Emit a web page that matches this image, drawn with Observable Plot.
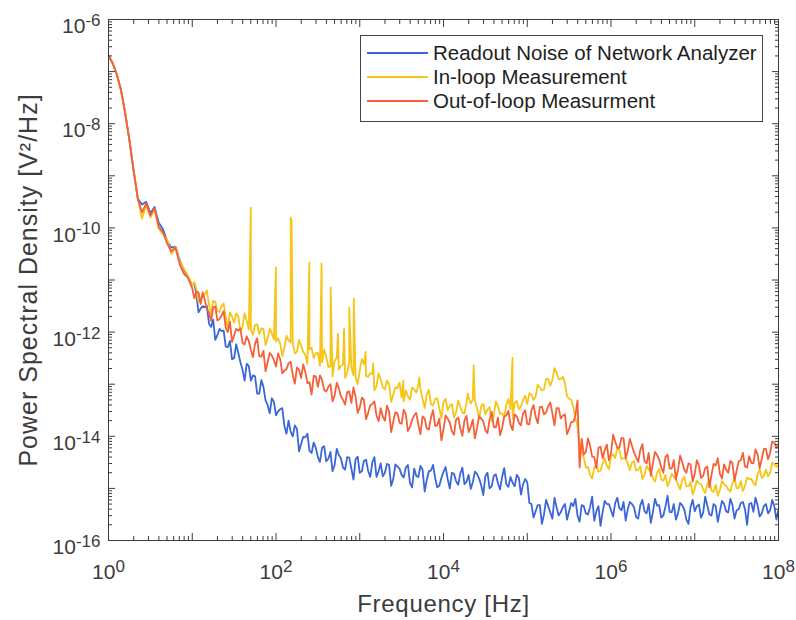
<!DOCTYPE html>
<html>
<head>
<meta charset="utf-8">
<script src="https://cdn.jsdelivr.net/npm/d3@7"></script>
<script src="https://cdn.jsdelivr.net/npm/@observablehq/plot@0.6"></script>
<style>
  body { margin: 0; background: #fff; }
  #wrap { position: relative; width: 796px; height: 620px; font-family: "Liberation Sans", Arial, sans-serif; }
  #legend { position: absolute; left: 360px; top: 35px; width: 403px; height: 87px; border: 1px solid #444; background: #fff; box-sizing: border-box; font-size: 20.5px; color: #1e1e1e; }
  .row { position: absolute; left: 0; height: 24px; display: flex; align-items: center; white-space: nowrap; }
  .sw { display: inline-block; width: 61px; height: 2px; margin-left: 6px; margin-right: 5px; }
</style>
</head>
<body>
<div id="wrap"></div>
<script>
// log10 of frequency [Hz] (main grid)
const logFreq = [0,0.05,0.1,0.15,0.2,0.25,0.3,0.35,0.4,0.45,0.5,0.55,0.6,0.65,0.7,0.75,0.8,0.85,0.9,0.95,1,
1.05,1.1,1.15,1.2,1.25,1.3,1.35,1.4,1.45,1.5,1.55,1.6,1.65,1.7,1.75,1.8,1.85,1.9,1.95,2,
2.05,2.1,2.15,2.2,2.25,2.3,2.35,2.4,2.45,2.5,2.55,2.6,2.65,2.7,2.75,2.8,2.85,2.9,2.95,3,
3.05,3.1,3.15,3.2,3.25,3.3,3.35,3.4,3.45,3.5,3.55,3.6,3.65,3.7,3.75,3.8,3.85,3.9,3.95,4,
4.05,4.1,4.15,4.2,4.25,4.3,4.35,4.4,4.45,4.5,4.55,4.6,4.65,4.7,4.75,4.8,4.85,4.9,4.95,5,
5.05,5.1,5.15,5.2,5.25,5.3,5.35,5.4,5.45,5.5,5.55,5.6,5.65,5.7,5.75,5.8,5.85,5.9,5.95,6,
6.05,6.1,6.15,6.2,6.25,6.3,6.35,6.4,6.45,6.5,6.55,6.6,6.65,6.7,6.75,6.8,6.85,6.9,6.95,7,
7.05,7.1,7.15,7.2,7.25,7.3,7.35,7.4,7.45,7.5,7.55,7.6,7.65,7.7,7.75,7.8,7.85,7.9,7.95,8];

// log10 of frequency [Hz] (in-between samples of the noisy part)
const midLogFreq = [1.025,1.075,1.125,1.175,1.225,1.275,1.325,1.375,1.425,1.475,1.525,1.575,1.625,1.675,1.725,1.775,1.825,1.875,1.925,1.975,
2.025,2.075,2.125,2.175,2.225,2.275,2.325,2.375,2.425,2.475,2.525,2.575,2.625,2.675,2.725,2.775,2.825,2.875,2.925,2.975,
3.025,3.075,3.125,3.175,3.225,3.275,3.325,3.375,3.425,3.475,3.525,3.575,3.625,3.675,3.725,3.775,3.825,3.875,3.925,3.975,
4.025,4.075,4.125,4.175,4.225,4.275,4.325,4.375,4.425,4.475,4.525,4.575,4.625,4.675,4.725,4.775,4.825,4.875,4.925,4.975,
5.025,5.075,5.125,5.175,5.225,5.275,5.325,5.375,5.425,5.475,5.525,5.575,5.625,5.675,5.725,5.775,5.825,5.875,5.925,5.975,
6.025,6.075,6.125,6.175,6.225,6.275,6.325,6.375,6.425,6.475,6.525,6.575,6.625,6.675,6.725,6.775,6.825,6.875,6.925,6.975,
7.025,7.075,7.125,7.175,7.225,7.275,7.325,7.375,7.425,7.475,7.525,7.575,7.625,7.675,7.725,7.775,7.825,7.875,7.925,7.975];

// ---- Readout Noise of Network Analyzer: log10 PSD [V^2/Hz] ----
const readoutNoise = [-6.69,-6.84,-7.06,-7.36,-7.80,-8.32,-8.90,-9.44,-9.55,-9.50,-9.72,-9.60,-9.90,-10.02,-10.25,-10.38,-10.36,-10.62,-10.80,-10.95,-11.10,
-11.29,-11.55,-11.52,-11.84,-11.76,-12.06,-11.98,-12.28,-12.17,-12.50,-12.40,-12.72,-12.61,-12.93,-12.85,-13.18,-13.05,-13.40,-13.27,-13.60,
-13.48,-13.80,-13.70,-14.00,-13.86,-14.15,-14.02,-14.28,-14.12,-14.40,-14.22,-14.48,-14.30,-14.55,-14.36,-14.60,-14.40,-14.62,-14.44,-14.70,
-14.47,-14.66,-14.50,-14.78,-14.52,-14.70,-14.55,-14.82,-14.58,-14.74,-14.60,-14.90,-14.62,-14.78,-14.64,-14.84,-14.66,-14.80,-14.95,-14.68,
-14.82,-14.70,-14.86,-14.72,-14.92,-14.74,-14.88,-14.72,-14.94,-14.76,-15.00,-14.76,-14.90,-14.78,-14.92,-14.78,-14.96,-14.80,-14.92,-14.88,
-15.30,-15.44,-15.32,-15.50,-15.34,-15.58,-15.36,-15.46,-15.30,-15.44,-15.34,-15.52,-15.32,-15.48,-15.36,-15.62,-15.34,-15.45,-15.30,-15.42,
-15.28,-15.38,-15.26,-15.40,-15.30,-15.55,-15.32,-15.44,-15.30,-15.46,-15.33,-15.56,-15.35,-15.45,-15.30,-15.48,-15.32,-15.60,-15.36,-15.44,
-15.31,-15.47,-15.33,-15.52,-15.34,-15.44,-15.30,-15.46,-15.32,-15.42,-15.28,-15.40,-15.30,-15.45,-15.32,-15.48,-15.30,-15.42,-15.34,-15.40];
const readoutNoiseMid = [-11.06,-11.62,-11.50,-11.50,-11.90,-12.15,-11.94,-11.97,-12.29,-12.52,-12.23,-12.58,-12.93,-12.65,-12.83,-13.18,-12.92,-13.31,-13.56,-13.34,
-13.52,-13.46,-13.95,-13.91,-13.79,-14.29,-14.01,-13.95,-14.32,-14.22,-14.49,-14.19,-14.43,-14.67,-14.24,-14.42,-14.64,-14.41,-14.83,-14.39,
-14.67,-14.45,-14.78,-14.40,-14.67,-14.77,-14.53,-14.95,-14.54,-14.62,-14.79,-14.55,-14.98,-14.76,-14.57,-15.06,-14.67,-14.55,-14.98,-14.80,
-14.59,-15.00,-14.72,-14.93,-14.60,-14.87,-15.01,-14.68,-14.81,-15.13,-14.70,-14.96,-14.73,-15.02,-14.61,-14.97,-14.89,-14.74,-15.12,-14.82,
-15.28,-15.56,-15.32,-15.68,-15.22,-15.46,-15.18,-15.52,-15.36,-15.60,-15.28,-15.20,-15.64,-15.34,-15.50,-15.16,-15.44,-15.72,-15.24,-15.30,
-15.54,-15.18,-15.42,-15.62,-15.26,-15.36,-15.58,-15.22,-15.48,-15.66,-15.20,-15.32,-15.52,-15.14,-15.46,-15.60,-15.28,-15.40,-15.68,-15.22,
-15.34,-15.56,-15.16,-15.50,-15.30,-15.64,-15.24,-15.44,-15.20,-15.58,-15.40,-15.26,-15.70,-15.28,-15.18,-15.54,-15.34,-15.48,-15.22,-15.60];

// ---- In-loop Measurement ----
const inLoop = [-6.69,-6.84,-7.06,-7.36,-7.80,-8.32,-8.90,-9.44,-9.82,-9.56,-9.80,-9.64,-10.02,-10.12,-10.22,-10.50,-10.36,-10.64,-10.78,-10.92,-11.10,
-11.18,-11.36,-11.28,-11.48,-11.40,-11.60,-11.50,-11.72,-11.62,-11.82,-11.70,-11.90,-11.78,-11.96,-11.86,-12.04,-11.94,-12.12,-12.02,-12.18,
-12.22,-12.30,-12.16,-12.20,-12.38,-12.27,-12.44,-12.33,-12.50,-12.40,-12.58,-12.48,-12.66,-12.55,-12.72,-12.62,-12.78,-12.68,-12.86,-12.74,
-12.62,-12.86,-12.80,-13.04,-12.90,-13.10,-13.00,-13.20,-13.08,-13.26,-13.12,-13.30,-13.10,-13.02,-13.28,-13.20,-13.38,-13.28,-13.46,-13.34,
-13.50,-13.38,-13.54,-13.42,-13.56,-13.24,-13.30,-13.46,-13.42,-13.58,-13.44,-13.60,-13.42,-13.56,-13.40,-13.48,-13.36,-13.48,-13.30,-13.38,
-13.20,-13.24,-13.06,-13.10,-12.90,-12.92,-12.78,-12.90,-12.98,-13.28,-13.44,-13.80,-14.30,-14.60,-14.74,-14.60,-14.68,-14.52,-14.56,-14.38,
-14.42,-14.26,-14.42,-14.52,-14.50,-14.66,-14.58,-14.74,-14.64,-14.80,-14.70,-14.83,-14.74,-14.86,-14.78,-14.92,-14.84,-14.96,-14.88,-15.00,
-14.90,-15.02,-14.92,-15.04,-14.93,-15.03,-14.92,-15.02,-14.90,-15.00,-14.86,-14.95,-14.82,-14.90,-14.74,-14.80,-14.64,-14.70,-14.54,-14.52];
const inLoopMid = [-11.04,-11.43,-11.28,-11.20,-11.64,-11.42,-11.61,-11.45,-11.91,-11.70,-11.64,-11.98,-11.64,-11.95,-12.05,-11.85,-11.93,-12.25,-11.93,-12.14,
-12.12,-12.46,-12.07,-12.20,-12.41,-12.15,-12.38,-12.61,-12.30,-12.41,-12.65,-12.33,-12.67,-12.85,-12.50,-12.65,-12.88,-12.57,-12.83,-13.00,
-12.52,-12.84,-12.79,-13.12,-12.79,-13.06,-12.93,-13.34,-13.06,-12.97,-13.33,-13.23,-13.06,-13.16,-13.09,-13.46,-13.11,-13.41,-13.27,-13.66,
-13.28,-13.42,-13.64,-13.32,-13.55,-13.36,-13.37,-13.32,-13.66,-13.38,-13.49,-13.72,-13.33,-13.57,-13.62,-13.28,-13.66,-13.32,-13.43,-13.22,
-13.17,-13.30,-13.01,-13.12,-12.90,-13.03,-12.69,-12.90,-12.86,-13.23,-13.30,-13.66,-14.13,-14.41,-14.59,-14.81,-14.54,-14.66,-14.42,-14.63,
-14.34,-14.22,-14.44,-14.43,-14.65,-14.48,-14.64,-14.82,-14.57,-14.68,-14.87,-14.63,-14.85,-14.96,-14.72,-14.83,-15.02,-14.78,-14.96,-15.12,
-14.85,-14.92,-15.09,-14.84,-15.07,-15.14,-14.86,-14.95,-15.06,-14.81,-14.99,-15.05,-14.79,-14.82,-14.94,-14.63,-14.76,-14.77,-14.50,-14.59];
// narrow peaks (mains harmonics etc.) of the in-loop spectrum
const inLoopSpikeLogFreq = [1.699,1.999,2.176,2.186,2.398,2.544,2.653,2.740,2.813,2.875,2.929,3.07,3.16,3.52,3.71,4.29,4.36,4.824];
const inLoopSpikeLogPsd  = [-9.61,-10.76,-9.80,-9.85,-10.66,-10.68,-11.14,-12.03,-11.93,-11.53,-11.36,-12.38,-12.60,-12.93,-12.87,-13.18,-12.64,-12.49];

// ---- Out-of-loop Measurment ----
const outOfLoop = [-6.69,-6.84,-7.06,-7.36,-7.80,-8.32,-8.90,-9.44,-9.70,-9.53,-9.76,-9.62,-9.98,-10.08,-10.30,-10.45,-10.38,-10.70,-10.88,-10.96,-11.16,
-11.22,-11.46,-11.38,-11.62,-11.52,-11.78,-11.68,-11.92,-11.80,-12.06,-11.97,-12.20,-12.08,-12.34,-12.22,-12.46,-12.36,-12.58,-12.45,-12.66,
-12.52,-12.74,-12.60,-12.82,-12.68,-12.88,-12.76,-12.96,-12.84,-13.05,-12.92,-13.14,-13.00,-13.22,-13.08,-13.30,-13.15,-13.36,-13.24,-13.45,
-13.30,-13.55,-13.38,-13.60,-13.46,-13.70,-13.52,-13.72,-13.56,-13.76,-13.58,-13.82,-13.60,-13.78,-13.62,-13.85,-13.64,-13.80,-13.66,-13.86,
-13.66,-13.90,-13.68,-13.84,-13.70,-13.92,-13.68,-13.84,-13.66,-13.88,-13.68,-13.82,-13.64,-13.84,-13.60,-13.78,-13.58,-13.74,-13.56,-13.76,
-13.50,-13.62,-13.44,-13.58,-13.42,-13.56,-13.46,-13.66,-13.58,-13.86,-13.72,-13.31,-14.05,-14.30,-14.18,-14.40,-14.22,-14.42,-14.16,-14.32,
-14.10,-14.22,-14.04,-14.28,-14.18,-14.40,-14.26,-14.48,-14.32,-14.52,-14.36,-14.60,-14.40,-14.62,-14.46,-14.64,-14.50,-14.70,-14.54,-14.72,
-14.56,-14.76,-14.58,-14.74,-14.56,-14.72,-14.54,-14.70,-14.52,-14.66,-14.46,-14.58,-14.38,-14.52,-14.34,-14.44,-14.24,-14.32,-14.12,-14.16];
const outOfLoopMid = [-11.35,-11.24,-11.24,-11.56,-11.79,-11.51,-11.75,-11.60,-12.00,-12.19,-11.94,-11.93,-12.24,-12.17,-12.48,-12.12,-12.47,-12.75,-12.40,-12.54,
-12.41,-12.79,-12.71,-12.57,-12.99,-12.72,-12.62,-12.98,-13.20,-12.85,-12.83,-13.11,-13.05,-13.33,-12.97,-13.23,-13.39,-13.14,-13.06,-13.55,
-13.26,-13.67,-13.41,-13.33,-13.71,-13.62,-13.41,-13.92,-13.54,-13.74,-13.49,-13.90,-13.69,-13.55,-13.96,-13.66,-13.87,-13.50,-13.79,-14.08,
-13.60,-13.74,-13.97,-13.64,-13.99,-13.61,-13.82,-14.04,-13.61,-13.71,-13.94,-13.53,-13.83,-13.98,-13.62,-13.51,-13.88,-13.62,-13.79,-13.50,
-13.77,-13.40,-13.75,-13.43,-13.54,-13.35,-13.79,-13.46,-13.60,-13.96,-13.73,-13.60,-14.60,-14.35,-14.04,-14.39,-14.61,-14.20,-14.27,-14.46,
-13.97,-14.22,-14.03,-14.42,-14.05,-14.31,-14.49,-14.15,-14.52,-14.76,-14.30,-14.44,-14.70,-14.35,-14.62,-14.83,-14.37,-14.64,-14.52,-14.87,
-14.46,-14.80,-14.61,-14.98,-14.53,-14.42,-14.81,-14.64,-14.47,-14.85,-14.48,-14.32,-14.60,-14.51,-14.25,-14.61,-14.24,-14.44,-14.10,-14.22];

const seriesNames = ["Readout Noise of Network Analyzer", "In-loop Measurement", "Out-of-loop Measurment"];
const seriesColors = ["#3a66d8", "#f5c518", "#f55f3a"];

const xMajorTicks = [1,1e1,1e2,1e3,1e4,1e5,1e6,1e7,1e8];
const xTickLabels = [1,1e2,1e4,1e6,1e8];
const yMajorTicks = [1e-16,1e-15,1e-14,1e-13,1e-12,1e-11,1e-10,1e-9,1e-8,1e-7,1e-6];
const yTickLabels = [1e-16,1e-14,1e-12,1e-10,1e-8,1e-6];

// ---- build tables ----
function toRows(lf, lp) { return lf.map((f, i) => ({f: Math.pow(10, f), p: Math.pow(10, lp[i])})); }
const byF = (a, b) => a.f - b.f;
const readoutRows = toRows(logFreq.concat(midLogFreq), readoutNoise.concat(readoutNoiseMid)).sort(byF);
const inLoopRows = toRows(logFreq.concat(midLogFreq, inLoopSpikeLogFreq), inLoop.concat(inLoopMid, inLoopSpikeLogPsd)).sort(byF);
const outRows = toRows(logFreq.concat(midLogFreq), outOfLoop.concat(outOfLoopMid)).sort(byF);

const minorX = [], minorY = [];
for (let k = 0; k < 8; k++) for (let m = 2; m < 10; m++) minorX.push(m * Math.pow(10, k));
for (let k = -16; k < -6; k++) for (let m = 2; m < 10; m++) minorY.push(m * Math.pow(10, k));

const axisColor = "#3c3c3c";
const fmt = d => "10^" + Math.round(Math.log10(d));
const blank = () => "";
const MAJ = 7, MIN = 4;
const SW = 1.8;

const xTitle = "Frequency [Hz]";
const yTitle = "Power Spectral Density [V²/Hz]";

const chart = Plot.plot({
  width: 796, height: 620,
  marginLeft: 108, marginRight: 18, marginTop: 19, marginBottom: 80,
  style: {fontFamily: '"Liberation Sans", Arial, sans-serif', background: "#fff", color: axisColor, overflow: "visible"},
  x: {type: "log", domain: [1, 1e8]},
  y: {type: "log", domain: [1e-16, 1e-6]},
  marks: [
    Plot.line(readoutRows, {x: "f", y: "p", stroke: seriesColors[0], strokeWidth: SW, clip: true}),
    Plot.line(inLoopRows, {x: "f", y: "p", stroke: seriesColors[1], strokeWidth: SW, clip: true}),
    Plot.line(outRows, {x: "f", y: "p", stroke: seriesColors[2], strokeWidth: SW, clip: true}),
    Plot.frame({stroke: axisColor, strokeWidth: 1}),
    // inward major/minor ticks on all four sides
    Plot.axisX(xMajorTicks, {anchor: "bottom", tickSize: MAJ, dy: -MAJ, tickFormat: blank, label: null}),
    Plot.axisX(minorX, {anchor: "bottom", tickSize: MIN, dy: -MIN, tickFormat: blank, label: null}),
    Plot.axisX(xMajorTicks, {anchor: "top", tickSize: MAJ, dy: MAJ, tickFormat: blank, label: null}),
    Plot.axisX(minorX, {anchor: "top", tickSize: MIN, dy: MIN, tickFormat: blank, label: null}),
    Plot.axisY(yMajorTicks, {anchor: "left", tickSize: MAJ, dx: MAJ, tickFormat: blank, label: null}),
    Plot.axisY(minorY, {anchor: "left", tickSize: MIN, dx: MIN, tickFormat: blank, label: null}),
    Plot.axisY(yMajorTicks, {anchor: "right", tickSize: MAJ, dx: -MAJ, tickFormat: blank, label: null}),
    Plot.axisY(minorY, {anchor: "right", tickSize: MIN, dx: -MIN, tickFormat: blank, label: null}),
    // tick labels
    Plot.axisX(xTickLabels, {anchor: "bottom", tickSize: 0, tickPadding: 24, tickFormat: fmt, fontSize: 21, label: null}),
    Plot.axisY(yTickLabels, {anchor: "left", tickSize: 0, tickPadding: 8, dy: 7, tickFormat: fmt, fontSize: 21, label: null}),
    // axis titles
    Plot.text([xTitle], {frameAnchor: "bottom", dy: 64, lineAnchor: "middle", textAnchor: "middle", fontSize: 24, fill: axisColor}),
    Plot.text([yTitle], {frameAnchor: "left", dx: -80, rotate: -90, lineAnchor: "middle", textAnchor: "middle", fontSize: 25, fill: axisColor})
  ]
});

const ns = "http://www.w3.org/2000/svg";
chart.querySelectorAll("text").forEach(t => {
  const s = t.textContent;
  if (s === xTitle) t.setAttribute("letter-spacing", "0.7");
  if (s === yTitle) t.setAttribute("letter-spacing", "1");
  // turn "10^n" labels into 10 with a superscript exponent
  const m = /^10\^(-?\d+)$/.exec(s);
  if (!m) return;
  t.textContent = "";
  const base = document.createElementNS(ns, "tspan");
  base.textContent = "10";
  const sup = document.createElementNS(ns, "tspan");
  sup.textContent = m[1];
  sup.setAttribute("dy", "-0.42em");
  sup.setAttribute("font-size", "17");
  t.appendChild(base);
  t.appendChild(sup);
});

const wrap = document.getElementById("wrap");
wrap.appendChild(chart);

// legend (inside the plot box, top right)
const legend = document.createElement("div");
legend.id = "legend";
seriesNames.forEach((name, i) => {
  const row = document.createElement("div");
  row.className = "row";
  row.style.top = (5 + 24 * i) + "px";
  const sw = document.createElement("span");
  sw.className = "sw";
  sw.style.background = seriesColors[i];
  const label = document.createElement("span");
  label.textContent = name;
  row.appendChild(sw);
  row.appendChild(label);
  legend.appendChild(row);
});
wrap.appendChild(legend);
</script>
</body>
</html>
